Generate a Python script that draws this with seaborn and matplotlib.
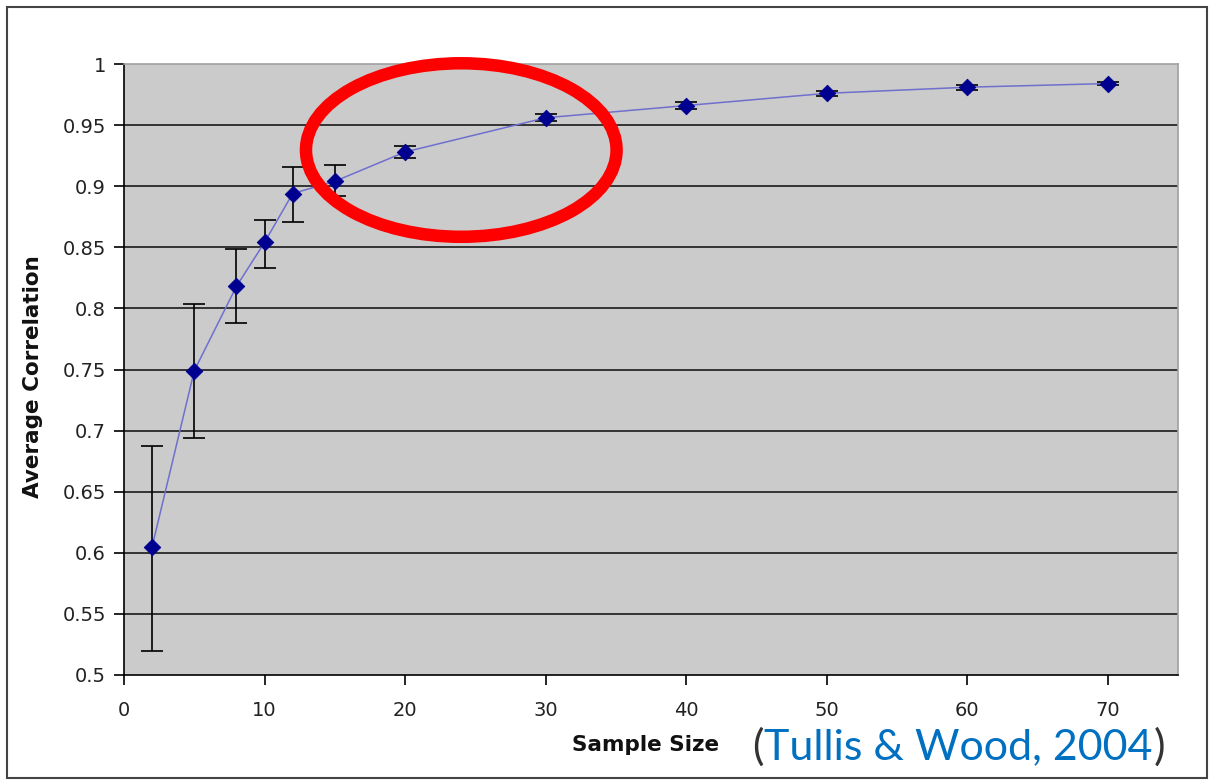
import matplotlib
matplotlib.use("Agg")
import matplotlib.pyplot as plt
from matplotlib.patches import Ellipse
import seaborn as sns
import numpy as np
import pandas as pd

sample_size = [2, 5, 8, 10, 12, 15, 20, 30, 40, 50, 60, 70]
avg_corr = [0.605, 0.749, 0.818, 0.854, 0.894, 0.904, 0.928, 0.956, 0.966, 0.976, 0.981, 0.984]
err_high = [0.687, 0.804, 0.849, 0.872, 0.916, 0.917, 0.933, 0.959, 0.969, 0.978, 0.983, 0.985]
err_low = [0.520, 0.694, 0.788, 0.833, 0.871, 0.892, 0.923, 0.953, 0.963, 0.974, 0.979, 0.983]
x_ticks = [0, 10, 20, 30, 40, 50, 60, 70]
y_ticks = [0.5, 0.55, 0.6, 0.65, 0.7, 0.75, 0.8, 0.85, 0.9, 0.95, 1.0]
y_tick_labels = ["0.5", "0.55", "0.6", "0.65", "0.7", "0.75", "0.8", "0.85", "0.9", "0.95", "1"]

df = pd.DataFrame({"n": sample_size, "r": avg_corr})

sns.set_style("white")
plt.rcParams["font.family"] = ["DejaVu Sans"]

W, H = 1214, 784
fig = plt.figure(figsize=(W / 100, H / 100), dpi=100)
ax = fig.add_axes([124 / W, 1 - 675 / H, (1178 - 124) / W, (675 - 64) / H])
ax.set_facecolor("#cbcbcb")

# outer figure border
fig.patches.append(plt.Rectangle((7 / W, 1 - 778 / H), 1200 / W, 771 / H,
                                 transform=fig.transFigure, fill=False,
                                 edgecolor="#444444", linewidth=1.5))

for yt in y_ticks[1:-1]:
    ax.axhline(yt, color="#1a1a1a", linewidth=1.2, zorder=1)

lo = np.array(avg_corr) - np.array(err_low)
hi = np.array(err_high) - np.array(avg_corr)
ax.errorbar(sample_size, avg_corr, yerr=[lo, hi], fmt="none", ecolor="black",
            elinewidth=1.2, capsize=8, capthick=1.2, zorder=3)
sns.lineplot(data=df, x="n", y="r", ax=ax, color="#6f6fcf", linewidth=1.1, zorder=4)
sns.scatterplot(data=df, x="n", y="r", ax=ax, marker="D", s=70, color="#000090",
                edgecolor="#000090", zorder=5)

ax.set_xlim(0, 75)
ax.set_ylim(0.5, 1.0)
ax.set_xticks(x_ticks)
ax.set_yticks(y_ticks)
ax.set_yticklabels(y_tick_labels)
ax.tick_params(axis="both", labelsize=14, length=7, width=1.2, color="black",
               labelcolor="#222222", direction="out", left=True, bottom=True, pad=6)
ax.tick_params(axis="x", pad=12)

for s in ["left", "bottom"]:
    ax.spines[s].set_color("black")
    ax.spines[s].set_linewidth(1.2)
for s in ["top", "right"]:
    ax.spines[s].set_color("#a0a0a0")
    ax.spines[s].set_linewidth(1.2)

ax.set_xlabel("")
ax.set_ylabel("")
fig.text(33 / W, 1 - 377 / H, "Average Correlation", fontsize=15.5, fontweight="bold",
         ha="center", va="center", rotation=90, color="#111111")
fig.text(646 / W, 1 - 745 / H, "Sample Size", fontsize=15.5, fontweight="bold",
         ha="center", va="center", color="#111111")

# citation, laid out piece by piece
fig.canvas.draw()
renderer = fig.canvas.get_renderer()
pieces = [("(", "#333333"), ("Tullis & Wood, 2004", "#0070c0"), (")", "#333333")]
x_px = 752
y_fig = 1 - 747 / H
for txt, col in pieces:
    t = fig.text(x_px / W, y_fig, txt, fontsize=31, color=col, ha="left",
                 va="center", family="Lato")
    bb = t.get_window_extent(renderer=renderer)
    x_px += bb.width + 1

ell = Ellipse((24.0, 0.9296), width=22.1, height=0.142, fill=False,
              edgecolor="#ff0000", linewidth=9, clip_on=False, zorder=6)
ax.add_patch(ell)

fig.savefig("out.png", dpi=100, facecolor="white")
